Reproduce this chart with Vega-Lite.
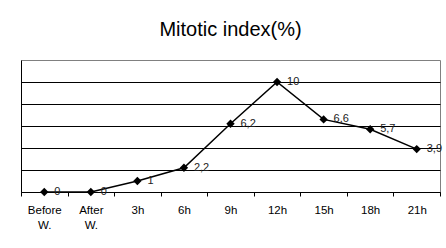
{
  "$schema": "https://vega.github.io/schema/vega-lite/v6.json",
  "width": 419,
  "height": 132,
  "autosize": {"type": "none"},
  "padding": {"left": 21, "top": 60, "right": 6, "bottom": 56},
  "background": "white",
  "title": {"text": "Mitotic index(%)", "fontSize": 20, "font": "Liberation Sans", "fontWeight": "normal", "color": "#000", "offset": 20, "anchor": "middle"},
  "config": {
    "locale": {"number": {"decimal": ",", "thousands": ".", "grouping": [3], "currency": ["", " €"]}},
    "view": {"stroke": "#808080", "strokeWidth": 1},
    "font": "Liberation Sans"
  },
  "data": {"values": [
    {"time": "Before W.", "index": 0},
    {"time": "After W.", "index": 0},
    {"time": "3h", "index": 1},
    {"time": "6h", "index": 2.2},
    {"time": "9h", "index": 6.2},
    {"time": "12h", "index": 10},
    {"time": "15h", "index": 6.6},
    {"time": "18h", "index": 5.7},
    {"time": "21h", "index": 3.9}
  ]},
  "encoding": {
    "x": {"field": "time", "type": "nominal", "sort": null,
      "scale": {"type": "band", "paddingInner": 0, "paddingOuter": 0},
      "axis": {"title": null, "labelAngle": 0, "tickBand": "extent", "domainColor": "#000", "tickColor": "#000", "tickSize": 4, "labelFontSize": 11.5, "labelColor": "#000", "labelPadding": 8, "labelExpr": "isValid(datum.value) ? split(datum.value, ' ') : ''", "labelLineHeight": 15, "grid": false, "labelFont": "Liberation Sans"}},
    "y": {"field": "index", "type": "quantitative",
      "scale": {"domain": [0, 12], "nice": false},
      "axis": {"title": null, "labels": false, "ticks": false, "domain": true, "domainColor": "#000", "grid": true, "gridColor": "#000", "gridOpacity": 1, "values": [0, 2, 4, 6, 8, 10]}}
  },
  "layer": [
    {"mark": {"type": "line", "color": "#000", "strokeWidth": 1.5}},
    {"mark": {"type": "point", "shape": "diamond", "filled": true, "color": "#000", "size": 70, "opacity": 1}},
    {"mark": {"type": "text", "align": "left", "dx": 10, "baseline": "middle", "fontSize": 11, "color": "#222", "font": "Liberation Sans"},
      "encoding": {"text": {"field": "index", "type": "quantitative", "format": ""}}}
  ]
}
